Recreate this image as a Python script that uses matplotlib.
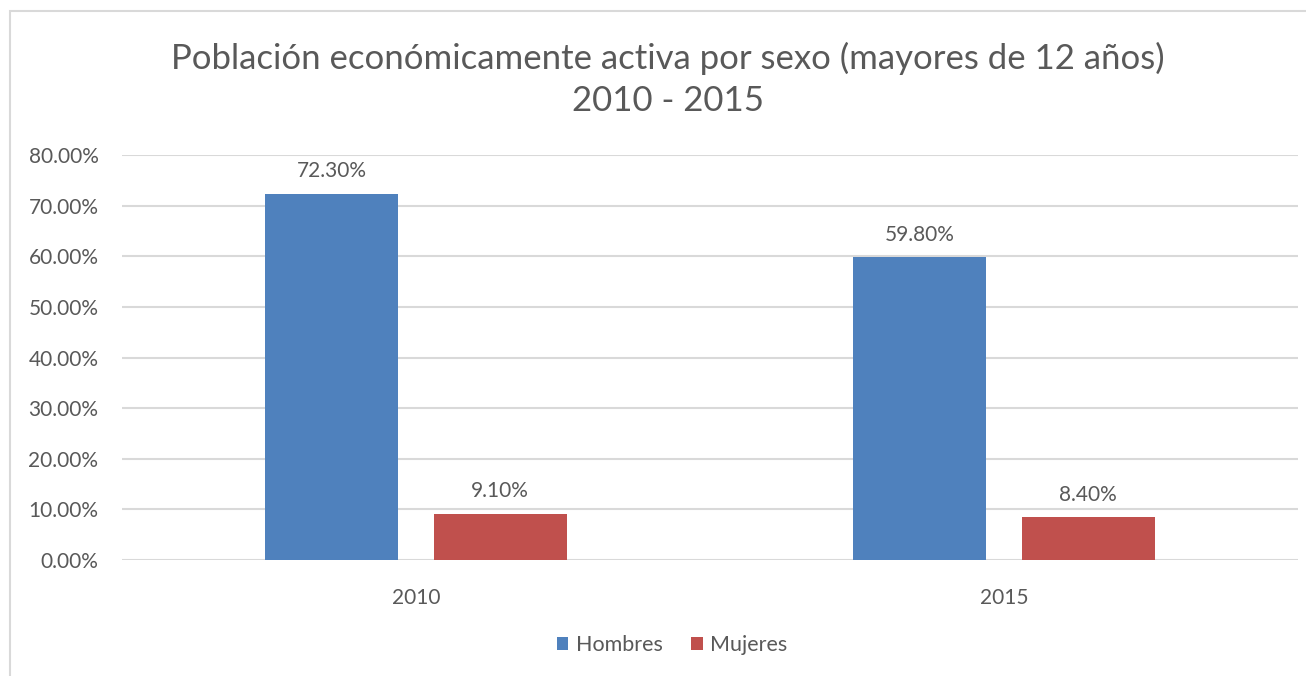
import numpy as np
import matplotlib.pyplot as plt
from matplotlib.patches import Rectangle, Patch

plt.rcParams['font.family'] = ['Lato', 'DejaVu Sans']

# datos
years = ['2010', '2015']
series = ['Hombres', 'Mujeres']
hombres = [0.723, 0.598]
mujeres = [0.091, 0.084]
colors = ['#4F81BD', '#C0504D']
yticks = [0, 0.1, 0.2, 0.3, 0.4, 0.5, 0.6, 0.7, 0.8]

W, H = 1306, 676
fig = plt.figure(figsize=(W / 100, H / 100), dpi=100)
txt = '#595959'

# marco del grafico (abierto a la derecha y abajo)
fig.patches.append(Rectangle((10 / W, -0.05), 1.1, 1.05 - 11 / H, transform=fig.transFigure,
                             fill=False, edgecolor='#d9d9d9', linewidth=1.5))

ax = fig.add_axes([122 / W, (H - 560) / H, (1298 - 122) / W, (560 - 155) / H])
x = np.arange(len(years))
width = 0.226
off = 0.143

for vals, name, col, sgn in [(hombres, series[0], colors[0], -1), (mujeres, series[1], colors[1], 1)]:
    bars = ax.bar(x + sgn * off, vals, width, color=col, label=name, zorder=3)
    for b, v in zip(bars, vals):
        ax.annotate(f'{v * 100:.2f}%', (b.get_x() + b.get_width() / 2, v),
                    xytext=(0, 9), textcoords='offset points',
                    ha='center', va='bottom', fontsize=15, color=txt)

ax.set_xlim(-0.5, 1.5)
ax.set_ylim(0, 0.8)
ax.set_yticks(yticks)
ax.set_yticklabels([f'{t * 100:.2f}%' for t in yticks])
ax.set_xticks(x)
ax.set_xticklabels(years)
ax.tick_params(axis='both', length=0, labelsize=15, colors=txt)
ax.tick_params(axis='x', pad=20)
ax.tick_params(axis='y', pad=17)
ax.grid(axis='y', color='#d9d9d9', linewidth=1.5, zorder=0)
for s in ax.spines.values():
    s.set_visible(False)

fig.text(668 / W, 1 - 58 / H, 'Población económicamente activa por sexo (mayores de 12 años)',
         ha='center', va='center', fontsize=25, color=txt)
fig.text(668 / W, 1 - 101 / H, '2010 - 2015', ha='center', va='center', fontsize=25, color=txt)

handles = [Patch(facecolor=c, label=s) for c, s in zip(colors, series)]
fig.legend(handles=handles, loc='center', bbox_to_anchor=(672 / W, 1 - 645 / H), ncol=2,
           frameon=False, fontsize=15.5, labelcolor=txt, handlelength=0.55, handleheight=0.55,
           handletextpad=0.35, columnspacing=1.3)

fig.savefig('out.png', dpi=100)
